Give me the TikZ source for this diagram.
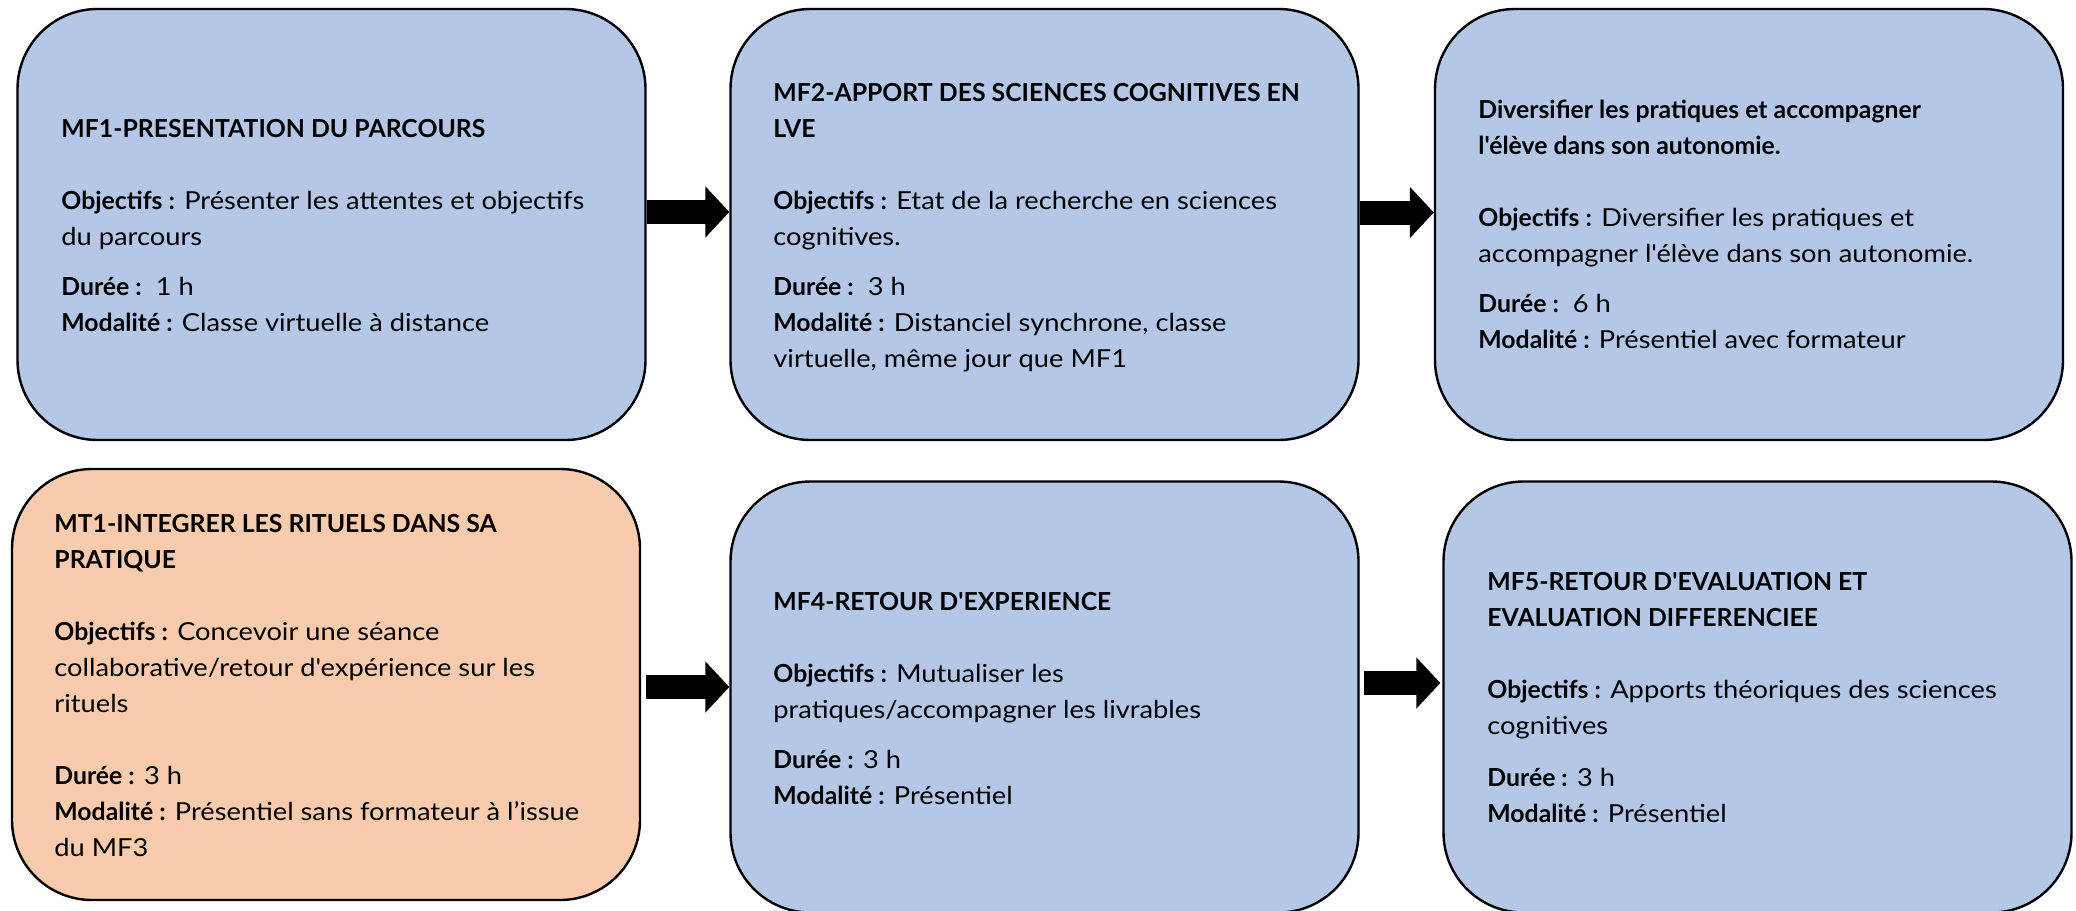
\documentclass[tikz,border=0pt]{standalone}
\usepackage{fontspec}
\setmainfont{Lato}[Ligatures=TeXOff, UprightFeatures={FakeStretch=1.1}]
\usetikzlibrary{arrows.meta}
\definecolor{boxblue}{HTML}{B4C7E7}
\definecolor{boxorange}{HTML}{F8CBAD}
\begin{document}
\begin{tikzpicture}[x=0.5pt,y=-0.5pt,
  box/.style={draw=black, line width=1.2pt, rounded corners=40pt, shape=rectangle,
    inner sep=0pt, minimum width=314pt, minimum height=215.5pt},
  bluebox/.style={box, fill=boxblue},
  orangebox/.style={box, fill=boxorange},
  txt/.style={anchor=north west, align=left, inner sep=0pt, text=black,
    font=\fontsize{12.4}{18}\selectfont},
  bigarrow/.style={line width=12pt, draw=black, -{Triangle[length=12pt,width=25pt]}}]
\useasboundingbox (0,0) rectangle (2076,910);
% boxes
\node[bluebox] (mf1) at (331.5,224.5) {};
\node[bluebox] (mf2) at (1044.5,224.5) {};
\node[bluebox] (mf3) at (1749,224.5) {};
\node[orangebox] (mt1) at (326,684.5) {};
\node[bluebox] (mf4) at (1044.5,697) {};
\node[bluebox] (mf5) at (1757.5,697) {};
% texts
\node[txt] (t1) at (61,111.8) {\strut\textbf{MF1-PRESENTATION DU PARCOURS}\\[18pt]
\textbf{Objectifs :} Présenter les attentes et objectifs\\
du parcours\\[7pt]
\textbf{Durée :}\ \ 1 h\\
\textbf{Modalité :} Classe virtuelle à distance};
\node[txt] (t2) at (773,75.8) {\strut\textbf{MF2-APPORT DES SCIENCES COGNITIVES EN}\\
\textbf{LVE}\\[18pt]
\textbf{Objectifs :} Etat de la recherche en sciences\\
cognitives.\\[7pt]
\textbf{Durée :}\ \ 3 h\\
\textbf{Modalité :} Distanciel synchrone, classe\\
virtuelle, même jour que MF1};
\node[txt] (t3) at (1478,92.8) {\strut\textbf{Diversifier les pratiques et accompagner}\\
\textbf{l'élève dans son autonomie.}\\[18pt]
\textbf{Objectifs :} Diversifier les pratiques et\\
accompagner l'élève dans son autonomie.\\[7pt]
\textbf{Durée :}\ \ 6 h\\
\textbf{Modalité :} Présentiel avec formateur};
\node[txt] (t4) at (54,506.8) {\strut\textbf{MT1-INTEGRER LES RITUELS DANS SA}\\
\textbf{PRATIQUE}\\[18pt]
\textbf{Objectifs :} Concevoir une séance\\
collaborative/retour d'expérience sur les\\
rituels\\[18pt]
\textbf{Durée :} 3 h\\
\textbf{Modalité :} Présentiel sans formateur à l’issue\\
du MF3};
\node[txt] (t5) at (773,584.8) {\strut\textbf{MF4-RETOUR D'EXPERIENCE}\\[18pt]
\textbf{Objectifs :} Mutualiser les\\
pratiques/accompagner les livrables\\[7pt]
\textbf{Durée :} 3 h\\
\textbf{Modalité :} Présentiel};
\node[txt] (t6) at (1487,564.8) {\strut\textbf{MF5-RETOUR D'EVALUATION ET}\\
\textbf{EVALUATION DIFFERENCIEE}\\[18pt]
\textbf{Objectifs :} Apports théoriques des sciences\\
cognitives\\[8pt]
\textbf{Durée :} 3 h\\
\textbf{Modalité :} Présentiel};
% arrows
\draw[bigarrow] ([yshift=6.25pt]mf1.east) -- ([yshift=6.25pt]mf2.west);
\draw[bigarrow] ([yshift=6pt]mf2.east) -- ([yshift=6pt]mf3.west);
\draw[bigarrow] ([shift={(2.5pt,-1.25pt)}]mt1.east) -- ([yshift=5pt]mf4.west);
\draw[bigarrow] ([shift={(2pt,7pt)}]mf4.east) -- ([shift={(-1pt,7pt)}]mf5.west);
\end{tikzpicture}
\end{document}
